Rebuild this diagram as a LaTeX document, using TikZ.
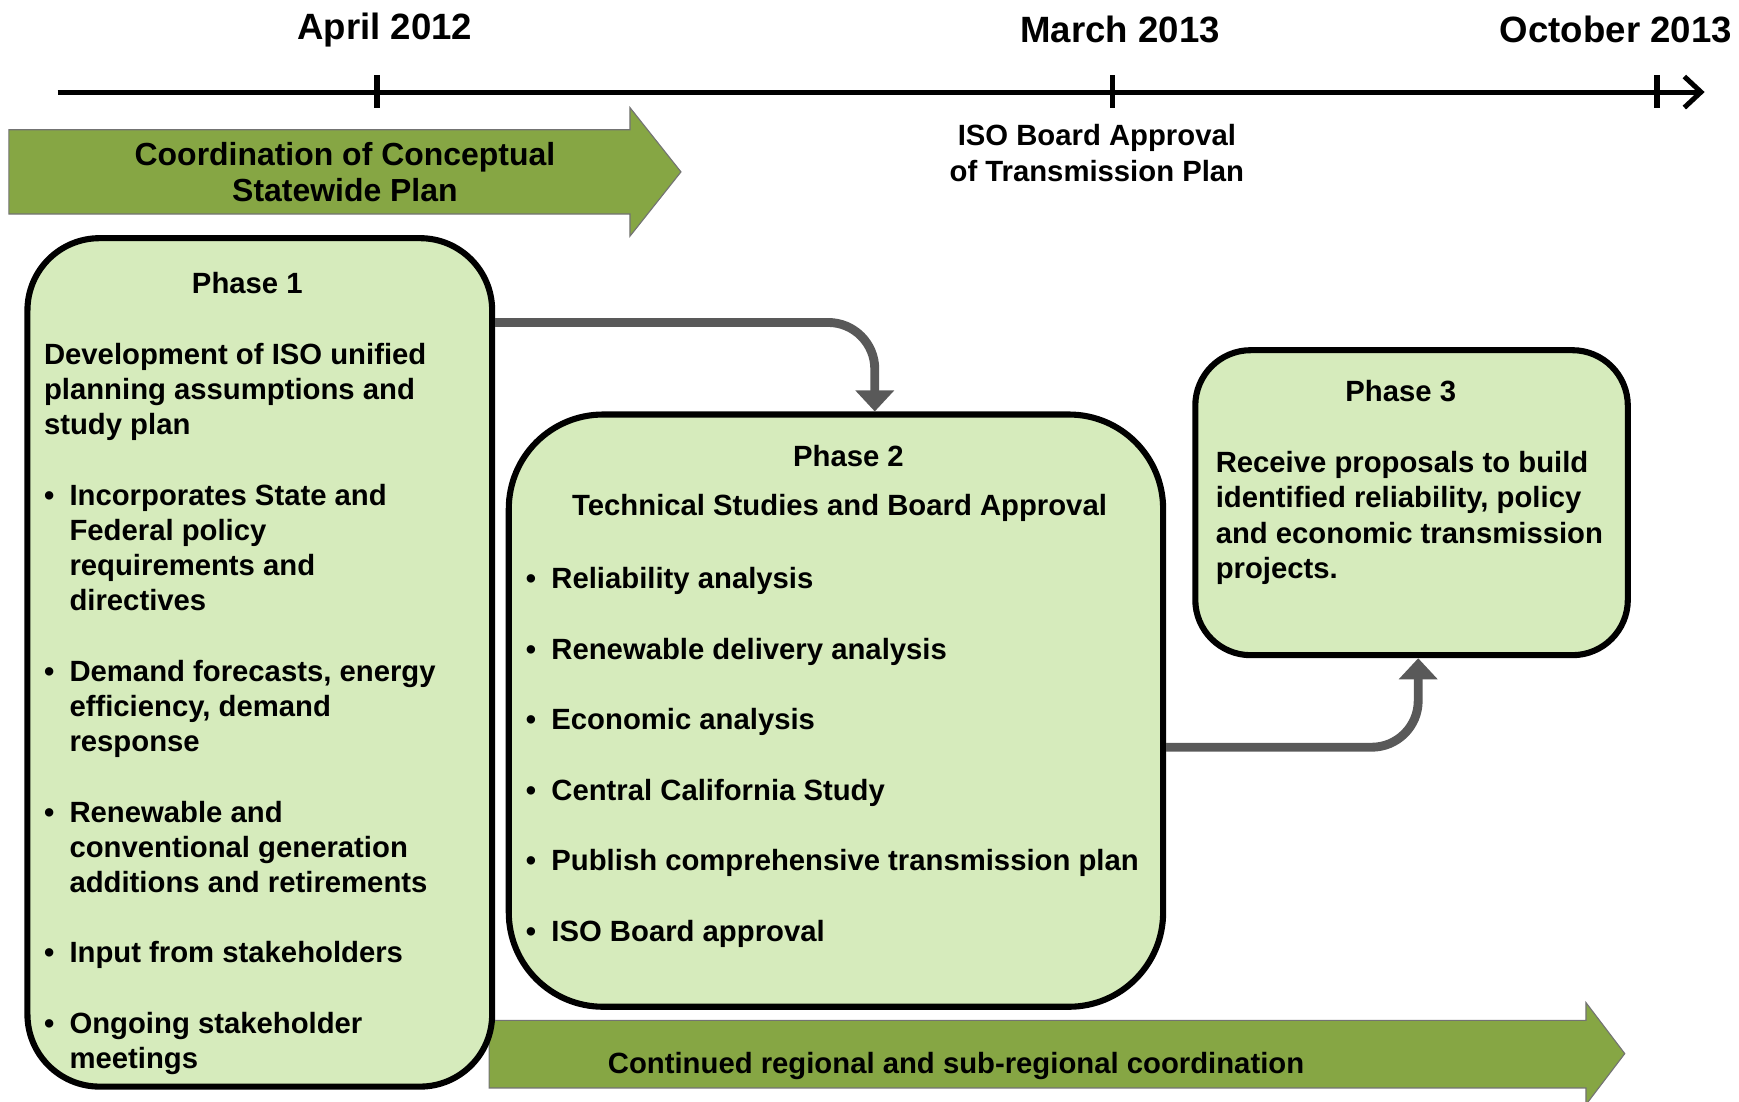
\documentclass[tikz,border=0pt]{standalone}
\usepackage{xcolor}
\usepackage{tikz}
\usepackage{fontspec}
\setmainfont{Liberation Sans}
\usetikzlibrary{arrows.meta}
\usetikzlibrary{calc}
\usetikzlibrary{positioning}

\definecolor{arrowgreen}{RGB}{134,166,68}
\definecolor{phasegreen}{RGB}{214,235,188}
\definecolor{linkgrey}{RGB}{89,89,89}

\newcommand{\bul}{\makebox[23pt][l]{\textbullet}}
\newcommand{\ind}{\hspace*{23pt}}

\begin{document}
\begin{tikzpicture}[
    x=1pt, y=-1pt,
    every node/.style={inner sep=0pt,
      font=\fontsize{26.4}{31.75}\selectfont\bfseries},
    datelabel/.style={font=\fontsize{33}{40}\selectfont\bfseries},
    bandtext/.style={font=\fontsize{28.8}{33}\selectfont\bfseries, align=center},
    band/.style={fill=arrowgreen, draw=black!55, line width=1pt},
    phasebox/.style={draw, line width=5.5pt, fill=phasegreen, anchor=north west},
    bodytext/.style={anchor=base west, align=left},
    link/.style={draw=linkgrey, line width=8pt, rounded corners=42pt,
      -{Triangle[width=34pt,length=19pt]}}]

    \useasboundingbox (0, 0) rectangle (1568, 993);

    \draw [line width=4.5pt, -{Straight Barb[length=15pt,width=28pt]}]
    (52, 83) -- (1537, 83);
    \foreach \x in {340, 1003, 1494}
      \draw [line width=5pt] (\x, 68) -- (\x, 97);

    \node [datelabel] (apr) at (347, 27) {April 2012};
    \node [datelabel] (mar) at (1010, 27) {March 2013};
    \node [datelabel] (oct) at (1457, 27) {October 2013};
    \node [align=center] (board) at (989, 138)
    {ISO Board Approval\\of Transmission Plan};

    \filldraw [band] (8, 117) -- (568, 117) -- (568, 97) -- (614, 155)
    -- (568, 213) -- (568, 193) -- (8, 193) -- cycle;
    \node [bandtext] (coord) at (311, 155)
    {Coordination of Conceptual\\Statewide Plan};

    \filldraw [band] (441, 920) -- (1430, 920) -- (1430, 904) -- (1465, 950)
    -- (1430, 996) -- (1430, 981) -- (441, 981) -- cycle;
    \node (cont) at (862, 961)
    {Continued regional and sub-regional coordination};

    \node [phasebox, minimum width=419pt, minimum height=765pt,
      rounded corners=65pt] (p1) at (22, 212) {};
    \node [phasebox, minimum width=590pt, minimum height=534pt,
      rounded corners=85pt] (p2) at (456, 371) {};
    \node [phasebox, minimum width=390pt, minimum height=275pt,
      rounded corners=50pt] (p3) at (1075, 313) {};

    \node (p1title) at (223, 255) {Phase 1};
    \node [bodytext] (p1body) at (39.5, 963.5)
    {Development of ISO unified\\
     planning assumptions and\\
     study plan\\[31.75pt]
     \bul Incorporates State and\\
     \ind Federal policy\\
     \ind requirements and\\
     \ind directives\\[31.75pt]
     \bul Demand forecasts, energy\\
     \ind efficiency, demand\\
     \ind response\\[31.75pt]
     \bul Renewable and\\
     \ind conventional generation\\
     \ind additions and retirements\\[31.75pt]
     \bul Input from stakeholders\\[31.75pt]
     \bul Ongoing stakeholder\\
     \ind meetings};

    \node (p2title) at (765, 411) {Phase 2};
    \node (p2sub) at (757, 458) {Technical Studies and Board Approval};
    \node [bodytext] (p2body) at (474, 848.5)
    {\bul Reliability analysis\\[31.8pt]
     \bul Renewable delivery analysis\\[31.8pt]
     \bul Economic analysis\\[31.8pt]
     \bul Central California Study\\[31.8pt]
     \bul Publish comprehensive transmission plan\\[31.8pt]
     \bul ISO Board approval};

    \node (p3title) at (1263, 353) {Phase 3};
    \node [bodytext] (p3body) at (1096, 521.5)
    {Receive proposals to build\\
     identified reliability, policy\\
     and economic transmission\\
     projects.};

    \draw [link] ([yshift=306.5pt]p1.east) -| ([xshift=35pt]p2.north);
    \draw [link] ([yshift=-33pt]p2.east) -| ([xshift=6pt]p3.south);

  \end{tikzpicture}
\end{document}
